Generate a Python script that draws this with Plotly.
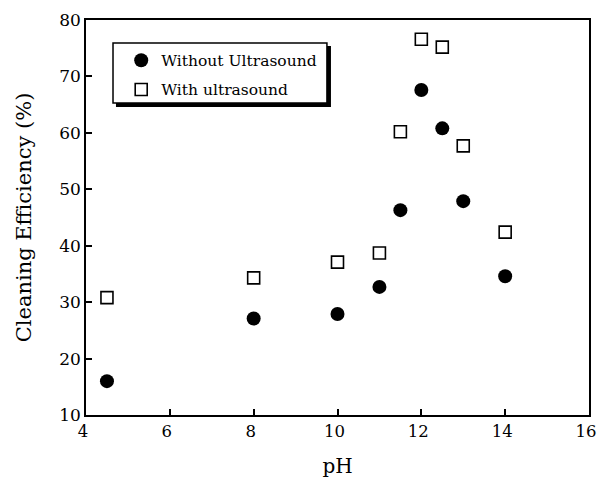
import plotly.graph_objects as go

ph_without = [4.5, 8, 10, 11, 11.5, 12, 12.5, 13, 14]
eff_without = [16.0, 27.1, 27.9, 32.7, 46.3, 67.6, 60.8, 47.9, 34.6]
ph_with = [4.5, 8, 10, 11, 11.5, 12, 12.5, 13, 14]
eff_with = [30.8, 34.3, 37.1, 38.7, 60.2, 76.6, 75.2, 57.7, 42.4]

x_ticks = [4, 6, 8, 10, 12, 14, 16]
y_ticks = [10, 20, 30, 40, 50, 60, 70, 80]

font = "DejaVu Serif"

fig = go.Figure()
fig.add_trace(go.Scatter(x=ph_without, y=eff_without, mode="markers", name="Without Ultrasound",
                         legendgroup="a",
                         marker=dict(symbol="circle", size=14, color="black")))
fig.add_trace(go.Scatter(x=ph_with, y=eff_with, mode="markers", name="With ultrasound",
                         legendgroup="b",
                         marker=dict(symbol="square-open", size=12, color="black", line=dict(width=1.6))))

axis_common = dict(showline=True, linecolor="black", linewidth=1.5, mirror=True,
                   ticks="inside", ticklen=6, tickwidth=1.5, tickcolor="black",
                   showgrid=False, zeroline=False, automargin=False,
                   ticklabeloverflow="allow")

fig.update_xaxes(range=[4, 16], tickvals=x_ticks,
                 tickfont=dict(family=font, size=16.5, color="black"),
                 ticklabelshift=-3,
                 title=dict(text="pH", font=dict(family=font, size=20, color="black"), standoff=20),
                 **axis_common)
fig.update_yaxes(range=[10, 80], tickvals=y_ticks,
                 tickfont=dict(family=font, size=17, color="black"),
                 title=dict(text="Cleaning Efficiency (%)", font=dict(family=font, size=21, color="black"), standoff=22),
                 **axis_common)

fig.update_layout(
    width=597, height=478,
    template="none",
    margin=dict(l=86, r=8, t=20, b=63),
    paper_bgcolor="white", plot_bgcolor="white",
    showlegend=True,
    legend=dict(x=0.070, y=0.94, xanchor="left", yanchor="top",
                bgcolor="rgba(0,0,0,0)", borderwidth=0,
                font=dict(family=font, size=15.5, color="black"),
                itemwidth=30, tracegroupgap=6),
    shapes=[
        dict(type="rect", xref="paper", yref="paper", x0=0.0596, x1=0.487, y0=0.780, y1=0.934,
             line=dict(width=0), fillcolor="black", opacity=1, layer="below"),
        dict(type="rect", xref="paper", yref="paper", x0=0.0537, x1=0.479, y0=0.790, y1=0.942,
             line=dict(width=1.5, color="black"), fillcolor="white", opacity=1, layer="below"),
    ],
)

fig.write_html("out.html",
               config={"displayModeBar": False},
               post_script="document.body.style.margin='0';document.body.style.overflow='hidden';")
